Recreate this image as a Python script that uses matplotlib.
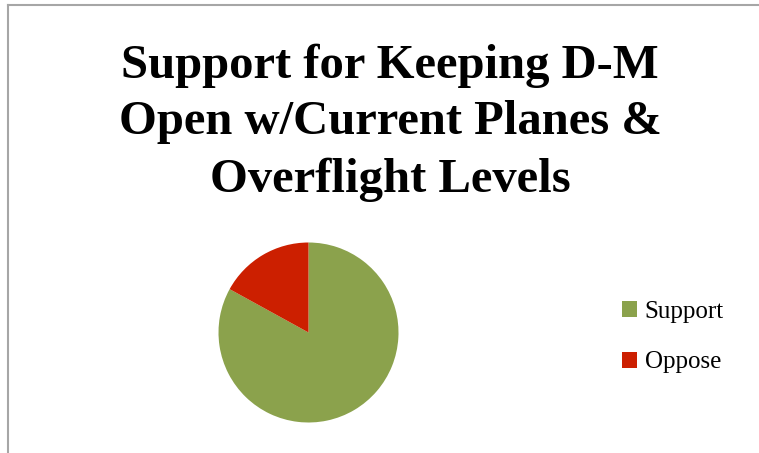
import matplotlib.pyplot as plt
from matplotlib.lines import Line2D
from matplotlib.patches import Patch

labels = ["Support", "Oppose"]
values = [83, 17]
colors = ["#8BA24C", "#CC1F00"]
title_lines = ["Support for Keeping D-M",
               "Open w/Current Planes &",
               "Overflight Levels"]

W, H = 759, 453
fig = plt.figure(figsize=(W / 100, H / 100), dpi=100)

# pie: centre ~ (308, 332) px, radius ~90 px
cx, cy, r = 308.5, 332.5, 90
ax = fig.add_axes([(cx - r) / W, (H - cy - r) / H, 2 * r / W, 2 * r / H])
ax.pie(values, colors=colors, startangle=90, counterclock=False,
       wedgeprops=dict(linewidth=0))
ax.set_xlim(-1, 1)
ax.set_ylim(-1, 1)
ax.set_aspect("auto")
ax.axis("off")

# title, one line per text so the baselines sit where they should
baselines = [78, 134, 192]
for line, yb in zip(title_lines, baselines):
    fig.text(390 / W, 1 - yb / H, line, ha="center", va="baseline",
             fontsize=35, fontweight="bold", family="Liberation Serif")

handles = [Patch(facecolor=c, edgecolor="none") for c in colors]
fig.legend(handles, labels, loc="center left",
           bbox_to_anchor=(622 / W, 1 - 337 / H), frameon=False,
           prop=dict(family="Liberation Serif", size=18),
           handlelength=0.6, handleheight=0.6, handletextpad=0.3,
           labelspacing=1.15, borderpad=0, borderaxespad=0)

# chart frame, only left and top edges visible
fig.add_artist(Line2D([7.5 / W, 7.5 / W], [0, 1 - 5 / H],
                      color="#A6A6A6", lw=1.5, transform=fig.transFigure))
fig.add_artist(Line2D([7.5 / W, 1], [1 - 5 / H, 1 - 5 / H],
                      color="#A6A6A6", lw=1.5, transform=fig.transFigure))

fig.savefig("out.png", dpi=100)
